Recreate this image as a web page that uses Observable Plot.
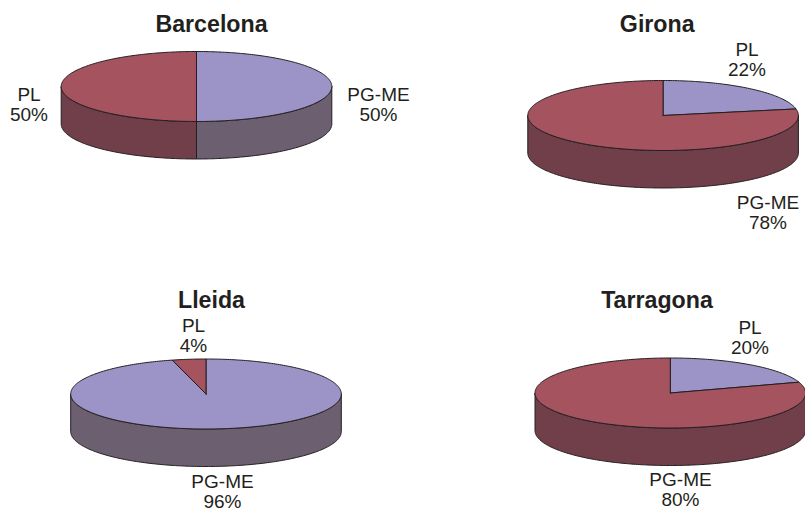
<!DOCTYPE html>
<html>
<head>
<meta charset="utf-8">
<style>
  html, body { margin: 0; padding: 0; background: #fff; }
  svg { display: block; }
</style>
<script src="https://cdn.jsdelivr.net/npm/d3@7"></script>
<script src="https://cdn.jsdelivr.net/npm/@observablehq/plot@0.6"></script>
</head>
<body>
<div id="chart"></div>
<script>
// Data. The first slice of each pie starts at 12 o'clock (blue), the second is red.
const cities = ["Barcelona", "Girona", "Lleida", "Tarragona"];
const firstSliceLabels = ["PG-ME", "PL", "PG-ME", "PL"];
const firstSliceValues = [50, 22, 96, 20];
const secondSliceLabels = ["PL", "PG-ME", "PL", "PG-ME"];
const secondSliceValues = [50, 78, 4, 80];

// Layout, in page pixels (kept apart from the data).
const pieCentres = {
  Barcelona: [196, 86],
  Girona: [662.6, 115],
  Lleida: [205.5, 393.5],
  Tarragona: [669.8, 392.5]
};
const titleAnchors = {
  Barcelona: [211, 24],
  Girona: [656.7, 24],
  Lleida: [211, 300],
  Tarragona: [656.5, 300]
};
const firstLabelAnchors = {
  Barcelona: [378, 104.5],
  Girona: [746.5, 59.5],
  Lleida: [222, 491.5],
  Tarragona: [749.5, 337]
};
const secondLabelAnchors = {
  Barcelona: [28.5, 104],
  Girona: [767.5, 212.5],
  Lleida: [193, 335.5],
  Tarragona: [680, 489]
};
const RX = 135.3, RY = 35, DEPTH = 37.5;
const tones = ["firstTop", "secondTop", "firstSide", "secondSide"];
const toneColours = ["#9c94c6", "#a5535f", "#6b5f70", "#703f49"];

const deg = Math.PI / 180;
const pt = (c, a, drop = 0) => ({
  x: c[0] + RX * Math.sin(a * deg),
  y: c[1] - RY * Math.cos(a * deg) + drop
});
const arc = (c, a0, a1, drop = 0) => {
  const n = Math.max(1, Math.ceil(Math.abs(a1 - a0)));
  return d3.range(n + 1).map(i => pt(c, a0 + (a1 - a0) * i / n, drop));
};

const polygons = [];
function addPolygon(id, tone, points) {
  const closed = [...points, points[0]];
  closed.forEach(p => polygons.push({id, tone, x: p.x, y: p.y}));
}

cities.forEach((city, i) => {
  const c = pieCentres[city];
  const total = firstSliceValues[i] + secondSliceValues[i];
  const split = 360 * firstSliceValues[i] / total;
  const slices = [
    {a0: 0, a1: split, top: "firstTop", side: "firstSide"},
    {a0: split, a1: 360, top: "secondTop", side: "secondSide"}
  ];
  // Visible outer wall: only the front half of the ellipse.
  slices.forEach((s, j) => {
    const f0 = Math.max(s.a0, 90), f1 = Math.min(s.a1, 270);
    if (f1 > f0) addPolygon(`${city}-side-${j}`, s.side, [...arc(c, f0, f1), ...arc(c, f1, f0, DEPTH)]);
  });
  slices.forEach((s, j) => {
    addPolygon(`${city}-top-${j}`, s.top, [{x: c[0], y: c[1]}, ...arc(c, s.a0, s.a1)]);
  });
});

const titles = cities.map(city => ({text: city, x: titleAnchors[city][0], y: titleAnchors[city][1]}));
const labels = cities.flatMap((city, i) => [
  {text: `${firstSliceLabels[i]}\n${firstSliceValues[i]}%`, x: firstLabelAnchors[city][0], y: firstLabelAnchors[city][1]},
  {text: `${secondSliceLabels[i]}\n${secondSliceValues[i]}%`, x: secondLabelAnchors[city][0], y: secondLabelAnchors[city][1]}
]);

const chart = Plot.plot({
  width: 805,
  height: 512,
  margin: 0,
  style: {background: "#fff", fontFamily: "'Liberation Sans', Arial, sans-serif"},
  x: {domain: [0, 805], range: [0, 805], axis: null},
  y: {domain: [0, 512], range: [0, 512], axis: null},
  color: {domain: tones, range: toneColours},
  marks: [
    Plot.line(polygons, {
      x: "x", y: "y", z: "id", fill: "tone",
      stroke: "#231e20", strokeWidth: 1, strokeLinejoin: "round", clip: false
    }),
    Plot.text(titles, {
      x: "x", y: "y", text: "text", fontSize: 23.2, fontWeight: "bold", fill: "#231f20"
    }),
    Plot.text(labels, {
      x: "x", y: "y", text: "text", fontSize: 19, lineHeight: 1.04, fill: "#231f20"
    })
  ]
});
document.getElementById("chart").appendChild(chart);
</script>
</body>
</html>
